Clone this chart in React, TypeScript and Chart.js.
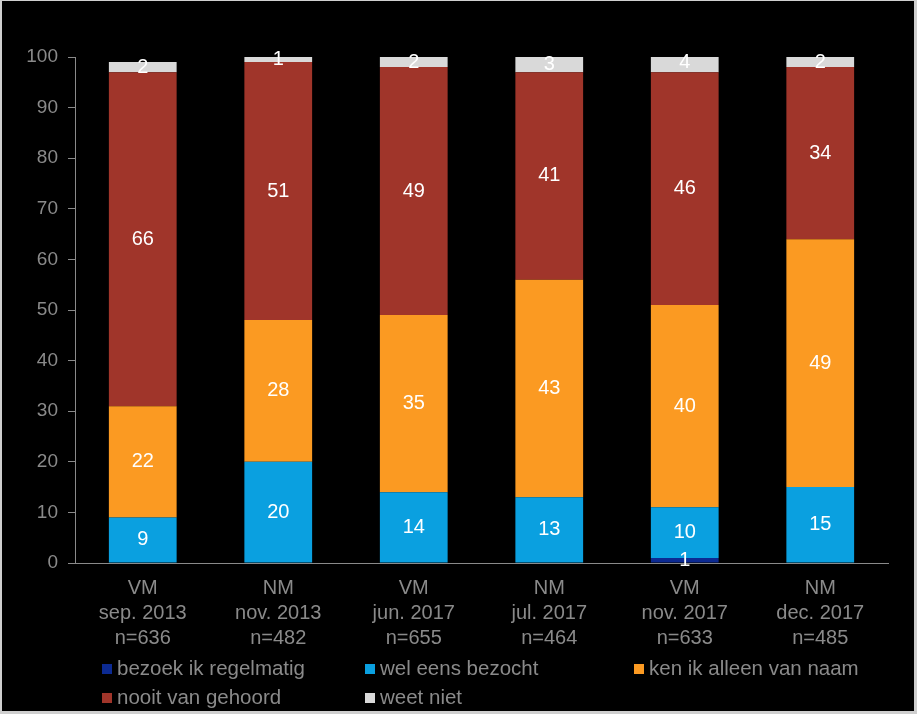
import { useEffect, useRef } from 'react';
import { Chart, registerables } from 'chart.js';

Chart.register(...registerables);

const categories: string[][] = [
  ['VM', 'sep. 2013', 'n=636'],
  ['NM', 'nov. 2013', 'n=482'],
  ['VM', 'jun. 2017', 'n=655'],
  ['NM', 'jul. 2017', 'n=464'],
  ['VM', 'nov. 2017', 'n=633'],
  ['NM', 'dec. 2017', 'n=485'],
];

const seriesNames = [
  'bezoek ik regelmatig',
  'wel eens bezocht',
  'ken ik alleen van naam',
  'nooit van gehoord',
  'weet niet',
];

const bezoekRegelmatig = [0, 0, 0, 0, 1, 0];
const welEensBezocht = [9, 20, 14, 13, 10, 15];
const kenAlleenVanNaam = [22, 28, 35, 43, 40, 49];
const nooitVanGehoord = [66, 51, 49, 41, 46, 34];
const weetNiet = [2, 1, 2, 3, 4, 2];

const seriesValues = [bezoekRegelmatig, welEensBezocht, kenAlleenVanNaam, nooitVanGehoord, weetNiet];
const seriesColors = ['#0c2a92', '#0aa0e0', '#fb9a22', '#a0352a', '#d9d9d9'];

const yTicks = [0, 10, 20, 30, 40, 50, 60, 70, 80, 90, 100];

const FONT = "'Liberation Sans', Arial, sans-serif";
const GREY = '#8a8a8a';

const backgroundPlugin = {
  id: 'bgFrame',
  beforeDraw(chart: any) {
    const { ctx, width, height } = chart;
    ctx.save();
    ctx.fillStyle = '#cfcfcf';
    ctx.fillRect(0, 0, width, height);
    ctx.fillStyle = '#000000';
    ctx.fillRect(2, 1, width - 5, height - 4);
    ctx.restore();
  },
};

const dataLabelPlugin = {
  id: 'dataLabels',
  afterDatasetsDraw(chart: any) {
    const { ctx } = chart;
    ctx.save();
    ctx.fillStyle = '#ffffff';
    ctx.font = `20px ${FONT}`;
    ctx.textAlign = 'center';
    ctx.textBaseline = 'middle';
    chart.data.datasets.forEach((ds: any, i: number) => {
      const meta = chart.getDatasetMeta(i);
      meta.data.forEach((bar: any, j: number) => {
        const v = ds.data[j];
        if (!v) return;
        ctx.fillText(String(v), bar.x, (bar.y + bar.base) / 2);
      });
    });
    ctx.restore();
  },
};

const legendPlugin = {
  id: 'customLegend',
  afterDraw(chart: any) {
    const { ctx } = chart;
    const colX = [102, 365, 634];
    const rowY = [669, 698];
    ctx.save();
    ctx.font = `20.5px ${FONT}`;
    ctx.textAlign = 'left';
    ctx.textBaseline = 'middle';
    chart.data.datasets.forEach((ds: any, i: number) => {
      const x = colX[i % 3];
      const y = rowY[Math.floor(i / 3)];
      ctx.fillStyle = ds.backgroundColor;
      ctx.fillRect(x, y - 5, 10, 10);
      ctx.fillStyle = GREY;
      ctx.fillText(ds.label, x + 15, y);
    });
    ctx.restore();
  },
};

export default function App() {
  const canvasRef = useRef<HTMLCanvasElement | null>(null);

  useEffect(() => {
    const canvas = canvasRef.current;
    if (!canvas) return;
    const chart = new Chart(canvas, {
      type: 'bar',
      data: {
        labels: categories,
        datasets: seriesNames.map((name, i) => ({
          label: name,
          data: seriesValues[i],
          backgroundColor: seriesColors[i],
          borderWidth: 0,
          barPercentage: 0.5,
          categoryPercentage: 1,
        })),
      },
      options: {
        responsive: false,
        animation: false,
        layout: { padding: { top: 57, right: 29, left: 0, bottom: 0 } },
        plugins: {
          legend: { display: false },
          tooltip: { enabled: false },
        },
        scales: {
          x: {
            stacked: true,
            grid: { display: false, drawTicks: false },
            border: { display: true, color: GREY, width: 1 },
            ticks: {
              color: GREY,
              font: { family: FONT, size: 20, lineHeight: 1.25 },
              padding: 13,
              maxRotation: 0,
              autoSkip: false,
            },
            afterFit(scale: any) {
              scale.height = 151;
            },
          },
          y: {
            stacked: true,
            min: 0,
            max: 100,
            grid: { drawOnChartArea: false, drawTicks: true, tickLength: 7, color: GREY },
            border: { display: true, color: GREY, width: 1 },
            afterBuildTicks(scale: any) {
              scale.ticks = yTicks.map((v) => ({ value: v }));
            },
            ticks: {
              color: GREY,
              font: { family: FONT, size: 19 },
              padding: 10,
            },
            afterFit(scale: any) {
              scale.width = 75;
            },
          },
        },
      },
      plugins: [backgroundPlugin, dataLabelPlugin, legendPlugin],
    });
    return () => chart.destroy();
  }, []);

  return (
    <div style={{ position: 'fixed', left: 0, top: 0, width: 917, height: 714 }}>
      <canvas ref={canvasRef} width={917} height={714} style={{ display: 'block' }} />
    </div>
  );
}
